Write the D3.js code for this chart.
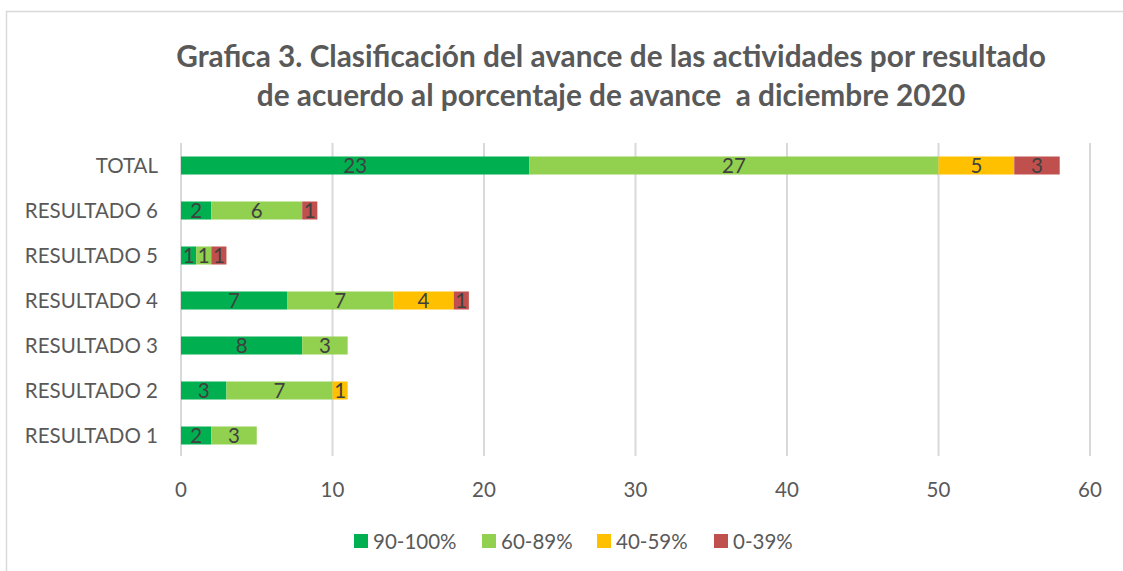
<!DOCTYPE html>
<html>
<head>
<meta charset="utf-8">
<script src="https://cdn.jsdelivr.net/npm/d3@7"></script>
<style>
  body { margin: 0; background: #fff; }
  text { font-family: Lato, "Open Sans", sans-serif; }
</style>
</head>
<body>
<svg id="chart" width="1123" height="571"></svg>
<script>
// categories, top to bottom
var categories = ['TOTAL', 'RESULTADO 6', 'RESULTADO 5', 'RESULTADO 4', 'RESULTADO 3', 'RESULTADO 2', 'RESULTADO 1'];
var seriesNames = ['90-100%', '60-89%', '40-59%', '0-39%'];
var s90 = [23, 2, 1, 7, 8, 3, 2];
var s60 = [27, 6, 1, 7, 3, 7, 3];
var s40 = [5, 0, 0, 4, 0, 1, 0];
var s0 = [3, 1, 1, 1, 0, 0, 0];
var xTicks = [0, 10, 20, 30, 40, 50, 60];
var titleLines = ['Grafica 3. Clasificación del avance de las actividades por resultado',
  'de acuerdo al porcentaje de avance  a diciembre 2020'];

var colors = ['#00b050', '#92d050', '#ffc000', '#c0504d'];

var svg = d3.select('#chart');
var W = 1123, H = 571;
var m = {left: 181, right: 33, top: 143, bottom: 115};

// outer frame
svg.append('rect')
  .attr('x', 6.5).attr('y', 11.5)
  .attr('width', W + 20).attr('height', H + 20)
  .style('fill', 'none').style('stroke', '#d9d9d9').style('stroke-width', 1.5);

// title
svg.append('text')
  .attr('x', 611).attr('y', 67)
  .attr('text-anchor', 'middle')
  .style('font-size', '29.8px').style('font-weight', 'bold').style('fill', '#595959')
  .style('white-space', 'pre')
  .selectAll('tspan').data(titleLines).enter().append('tspan')
  .attr('x', 611)
  .attr('dy', function (d, i) { return i === 0 ? 0 : 39; })
  .text(function (d) { return d; });

var x = d3.scaleLinear().domain([0, 60]).range([m.left, 1090]);
var y = d3.scaleBand().domain(categories).range([m.top, H - m.bottom + 2]).paddingInner(0.6).paddingOuter(0.3);

// gridlines
svg.append('g').selectAll('line').data(xTicks).enter().append('line')
  .attr('x1', function (d) { return x(d); })
  .attr('x2', function (d) { return x(d); })
  .attr('y1', m.top).attr('y2', H - m.bottom)
  .style('stroke', '#d9d9d9').style('stroke-width', 2);

// x tick labels
svg.append('g').selectAll('text').data(xTicks).enter().append('text')
  .attr('x', function (d) { return x(d); })
  .attr('y', 497)
  .attr('text-anchor', 'middle')
  .style('font-size', '20.5px').style('fill', '#595959')
  .text(function (d) { return d; });

// category labels
svg.append('g').selectAll('text').data(categories).enter().append('text')
  .attr('x', 158)
  .attr('y', function (d) { return y(d) + y.bandwidth() / 2; })
  .attr('dy', '0.36em')
  .attr('text-anchor', 'end')
  .style('font-size', '20.5px').style('fill', '#595959')
  .text(function (d) { return d; });

// stacked data
var rows = categories.map(function (c, i) {
  return {cat: c, 0: s90[i], 1: s60[i], 2: s40[i], 3: s0[i]};
});
var stack = d3.stack().keys([0, 1, 2, 3])(rows);

var layers = svg.append('g').selectAll('g').data(stack).enter().append('g')
  .style('fill', function (d, i) { return colors[i]; });

layers.selectAll('rect').data(function (d) { return d.filter(function (p) { return p[1] > p[0]; }); })
  .enter().append('rect')
  .attr('x', function (p) { return x(p[0]); })
  .attr('width', function (p) { return x(p[1]) - x(p[0]); })
  .attr('y', function (p) { return y(p.data.cat); })
  .attr('height', y.bandwidth());

layers.selectAll('text').data(function (d) { return d.filter(function (p) { return p[1] > p[0]; }); })
  .enter().append('text')
  .attr('x', function (p) { return (x(p[0]) + x(p[1])) / 2; })
  .attr('y', function (p) { return y(p.data.cat) + y.bandwidth() / 2; })
  .attr('dy', '0.37em')
  .attr('text-anchor', 'middle')
  .style('font-size', '20.5px').style('fill', '#404040')
  .text(function (p) { return p[1] - p[0]; });

// legend
var legX = [354, 482, 597, 714];
var leg = svg.append('g').selectAll('g').data(seriesNames).enter().append('g')
  .attr('transform', function (d, i) { return 'translate(' + legX[i] + ',534)'; });
leg.append('rect').attr('width', 14).attr('height', 14)
  .style('fill', function (d, i) { return colors[i]; });
leg.append('text').attr('x', 19).attr('y', 7).attr('dy', '0.37em')
  .style('font-size', '20.5px').style('fill', '#595959')
  .text(function (d) { return d; });
</script>
</body>
</html>
